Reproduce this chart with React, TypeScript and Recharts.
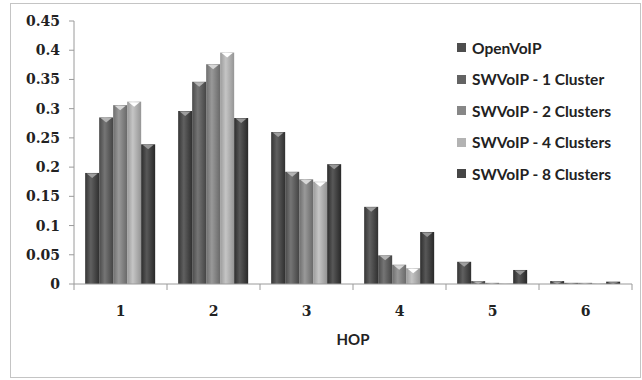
import React from 'react';
import { BarChart, Bar, XAxis, YAxis, Legend } from 'recharts';

const HOPS = ['1', '2', '3', '4', '5', '6'];
const OPEN_VOIP = [0.19, 0.296, 0.26, 0.132, 0.038, 0.005];
const SW_1 = [0.285, 0.346, 0.192, 0.049, 0.005, 0.002];
const SW_2 = [0.306, 0.376, 0.179, 0.033, 0.002, 0.002];
const SW_4 = [0.312, 0.396, 0.175, 0.027, 0.001, 0.001];
const SW_8 = [0.239, 0.284, 0.205, 0.089, 0.024, 0.004];
const Y_TICKS = [0, 0.05, 0.1, 0.15, 0.2, 0.25, 0.3, 0.35, 0.4, 0.45];

const SERIES = [
  { key: 'open', name: 'OpenVoIP', color: '#4e4e4e' },
  { key: 'sw1', name: 'SWVoIP - 1 Cluster', color: '#636363' },
  { key: 'sw2', name: 'SWVoIP - 2 Clusters', color: '#878787' },
  { key: 'sw4', name: 'SWVoIP - 4 Clusters', color: '#b3b3b3' },
  { key: 'sw8', name: 'SWVoIP - 8 Clusters', color: '#464646' },
];

const data = HOPS.map((hop, i) => ({
  hop,
  open: OPEN_VOIP[i],
  sw1: SW_1[i],
  sw2: SW_2[i],
  sw4: SW_4[i],
  sw8: SW_8[i],
}));

const shade = (hex: string, amt: number) => {
  const n = parseInt(hex.slice(1), 16);
  const f = (c: number) => Math.max(0, Math.min(255, Math.round(c + amt)));
  const r = f((n >> 16) & 255), g = f((n >> 8) & 255), b = f(n & 255);
  return `rgb(${r},${g},${b})`;
};

const makeShape = (idx: number) => (props: any) => {
  const { x, y, width, height } = props;
  if (!height || height <= 0) return null;
  const cap = Math.min(5, height);
  return (
    <g>
      <rect x={x} y={y} width={width} height={height} fill={`url(#grad${idx})`} />
      <path
        d={`M${x + 1.5},${y + 0.5} L${x + width - 1.5},${y + 0.5} L${x + width / 2},${y + cap} Z`}
        fill={shade(SERIES[idx].color, 80)}
      />
    </g>
  );
};

const XTick = (props: any) => {
  const { x, y, payload, index } = props;
  const half = payload.offset || 0;
  const axisY = y - 8;
  return (
    <g>
      <line x1={x - half} y1={axisY} x2={x - half} y2={axisY + 6} stroke="#9a9a9a" />
      {index === HOPS.length - 1 && (
        <line x1={x + half} y1={axisY} x2={x + half} y2={axisY + 6} stroke="#9a9a9a" />
      )}
      <text x={x} y={axisY + 32} textAnchor="middle" fontFamily="DejaVu Serif" fontWeight="bold" fontSize={14} fill="#222">
        {payload.value}
      </text>
    </g>
  );
};

const LegendBox = () => (
  <div style={{ fontFamily: 'Lato, sans-serif', fontWeight: 700, fontSize: 15.5, color: '#222' }}>
    {SERIES.map((s) => (
      <div key={s.key} style={{ display: 'flex', alignItems: 'center', height: 31.5, whiteSpace: 'nowrap' }}>
        <span style={{ width: 9, height: 9, background: s.color, marginRight: 6, display: 'inline-block' }} />
        {s.name}
      </div>
    ))}
  </div>
);

export default function App() {
  return (
    <div
      style={{
        position: 'absolute',
        left: 10,
        top: 3,
        width: 631,
        height: 375,
        border: '1px solid #c4c4c4',
        boxSizing: 'border-box',
        background: '#fff',
      }}
    >
      <BarChart
        width={629}
        height={373}
        data={data}
        margin={{ top: 17, right: 8, left: 0, bottom: 0 }}
        barCategoryGap="12%"
        barGap={0}
      >
        <defs>
          {SERIES.map((s, i) => (
            <linearGradient key={s.key} id={`grad${i}`} x1="0" y1="0" x2="1" y2="0">
              <stop offset="0%" stopColor={shade(s.color, -25)} />
              <stop offset="40%" stopColor={shade(s.color, 18)} />
              <stop offset="100%" stopColor={shade(s.color, -30)} />
            </linearGradient>
          ))}
        </defs>
        <XAxis
          dataKey="hop"
          height={93}
          tickLine={false}
          tickSize={6}
          tickMargin={2}
          axisLine={{ stroke: '#9a9a9a' }}
          tick={<XTick />}
          interval={0}
          label={{
            value: 'HOP',
            position: 'insideBottom',
            offset: 32,
            style: { fontFamily: 'Lato, sans-serif', fontWeight: 700, fontSize: 15, fill: '#222' },
          }}
        />
        <YAxis
          width={63}
          domain={[0, 0.45]}
          ticks={Y_TICKS}
          interval={0}
          tickSize={5}
          tickMargin={9}
          axisLine={{ stroke: '#9a9a9a' }}
          tickLine={{ stroke: '#9a9a9a' }}
          tick={{ fontFamily: 'DejaVu Serif', fontWeight: 'bold', fontSize: 14, fill: '#222' }}
        />
        <Legend
          layout="vertical"
          verticalAlign="middle"
          align="center"
          content={<LegendBox />}
          wrapperStyle={{ left: 446, top: 28, width: 180 }}
        />
        {SERIES.map((s, i) => (
          <Bar key={s.key} dataKey={s.key} name={s.name} fill={s.color} shape={makeShape(i)} isAnimationActive={false} />
        ))}
      </BarChart>
    </div>
  );
}
